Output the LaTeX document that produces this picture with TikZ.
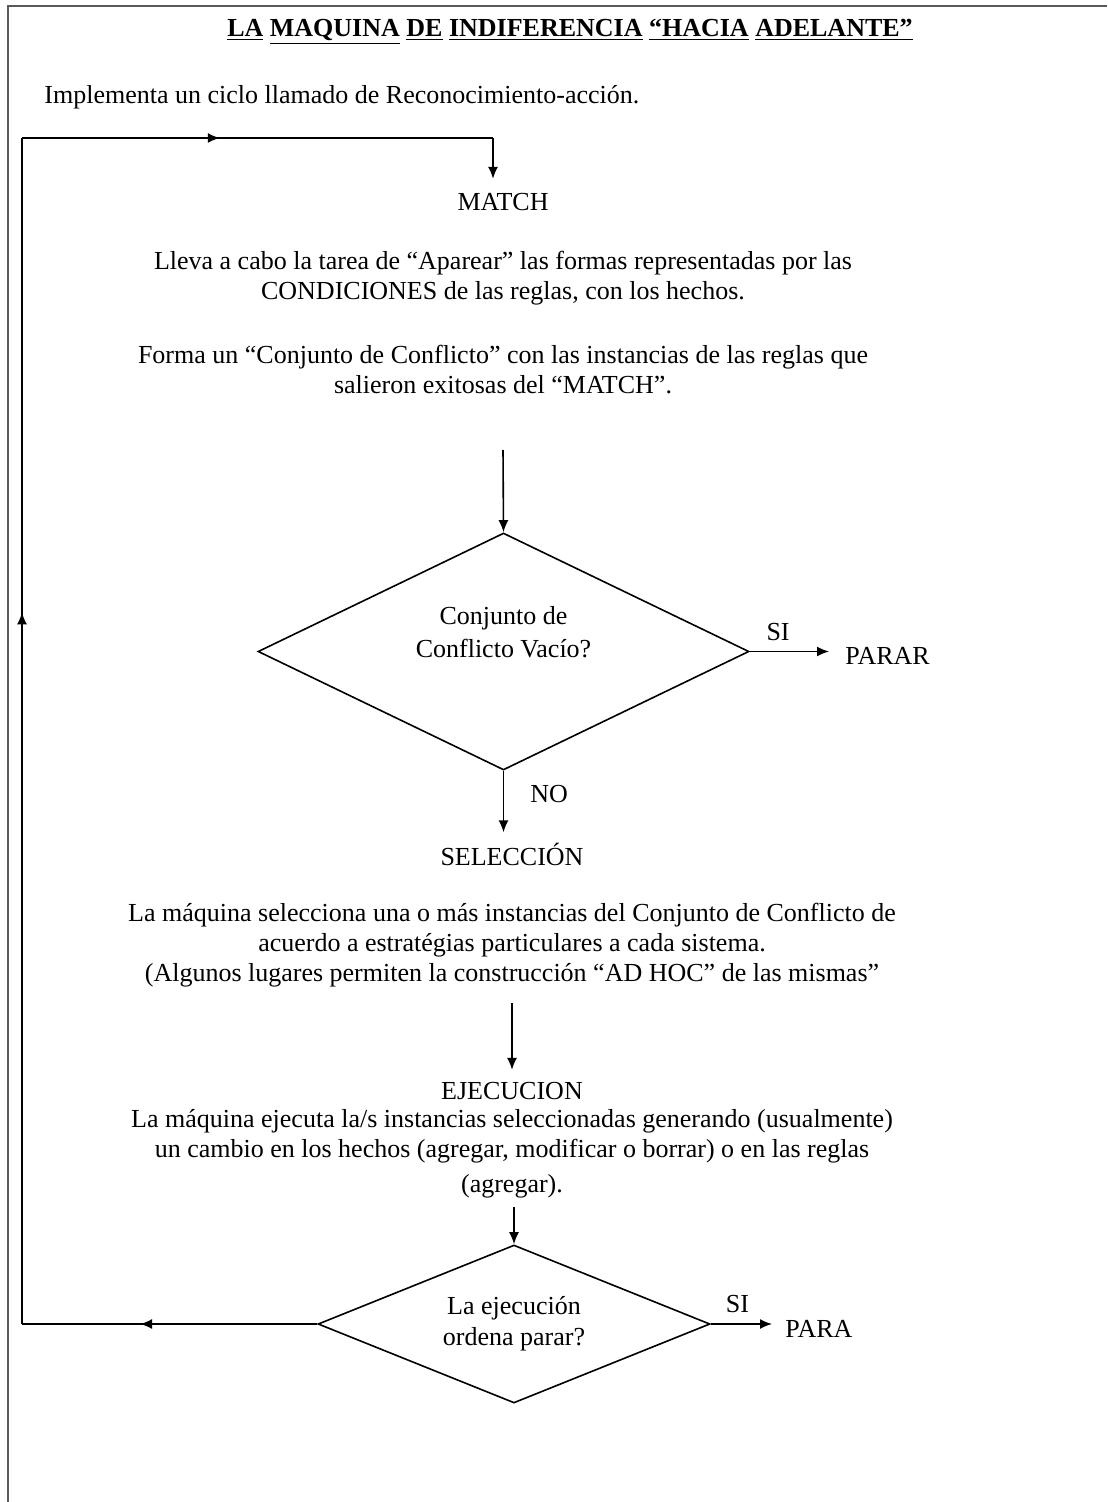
\documentclass[tikz,border=0pt]{standalone}
\usepackage{fontspec}
\setmainfont{Liberation Serif}
\usetikzlibrary{arrows.meta,shapes.geometric,decorations.markings}
\tikzset{
  txt/.style={align=center,inner sep=2pt,font=\fontsize{13}{15}\selectfont},
  head/.style={txt,font=\fontsize{13}{15}\selectfont\bfseries},
  decide/.style={draw=black,diamond,line width=.8pt,inner sep=0pt,
    align=center,font=\fontsize{13}{15}\selectfont},
  flow/.style={-{Latex[length=6pt,width=5pt]},line width=.8pt},
  loopline/.style={line width=.8pt},
  midarrow/.style={postaction={decorate},decoration={markings,
    mark=at position #1 with {\arrow{Latex[length=6pt,width=5pt]}}}},
  frameline/.style={draw=black!65,line width=1.2pt}
}
\begin{document}
\begin{tikzpicture}[x=.5pt,y=-.5pt]
\useasboundingbox (0,0) rectangle (1107,1502);
\draw[frameline] (8,1502) -- (8,6) -- (1107,6);

\node[head] (title) at (570,32)
  {\underline{LA} \underline{MAQUINA} \underline{DE} \underline{INDIFERENCIA}
   \underline{“HACIA} \underline{ADELANTE”}};
\node[txt,anchor=west] (intro) at (40,97)
  {Implementa un ciclo llamado de Reconocimiento-acción.};

\node[txt] (match) at (503,202) {MATCH};
\node[txt] (matchp) at (503,278)
  {Lleva a cabo la tarea de “Aparear” las formas representadas por las\\
   CONDICIONES de las reglas, con los hechos.};
\node[txt] (formap) at (503,370)
  {Forma un “Conjunto de Conflicto” con las instancias de las reglas que\\
   salieron exitosas del “MATCH”.};

\node[decide,aspect=2.07,minimum width=245.5pt,minimum height=118.5pt] (vacio) at (503.5,651.5)
  {Conjunto de\\[1.5pt]Conflicto Vacío?\\[5pt]~};
\node[txt,anchor=west] (parar) at (841,656) {PARAR};

\node[txt] (sel) at (512,854) {SELECCIÓN};
\node[txt] (selp) at (512,945)
  {La máquina selecciona una o más instancias del Conjunto de Conflicto de\\
   acuerdo a estratégias particulares a cada sistema.\\
   (Algunos lugares permiten la construcción “AD HOC” de las mismas”};

\node[txt] (ejec) at (512,1091) {EJECUCION};
\node[txt] (ejecp) at (512,1154)
  {La máquina ejecuta la/s instancias seleccionadas generando (usualmente)\\
   un cambio en los hechos (agregar, modificar o borrar) o en las reglas\\[2.5pt]
   (agregar).};

\node[decide,aspect=2.48,minimum width=196pt,minimum height=79pt] (ordena) at (514,1324)
  {La ejecución\\[.5pt]ordena parar?};
\node[txt,anchor=west] (para) at (781,1329) {PARA};

% loop corners
\coordinate (cbl) at (22,1324);
\coordinate (ctl) at (22,138);
\coordinate (ctr) at (493,138);
\coordinate (a1) at (503,450);

\draw[flow] (a1) -- (vacio.north);
\draw[flow,shorten >=6pt] (vacio.east) -- node[txt,above=3pt,pos=.31] {SI} (vacio.east -| parar.west);
\draw[flow,shorten >=3pt] (vacio.south) -- node[txt,right=11pt,pos=.35] {NO} (vacio.south |- sel.north);
\draw[flow,shorten <=6pt,shorten >=4pt] (ejec.north |- selp.south) -- (ejec.north);
\draw[flow,shorten <=2pt] (ordena.north |- ejecp.south) -- (ordena.north);
\draw[flow,shorten >=4.5pt] (ordena.east) -- node[txt,above=3pt,pos=.38] {SI} (ordena.east -| para.west);

\draw[loopline,midarrow=.6] (ordena.west) -- (cbl);
\draw[loopline,midarrow=.6] (cbl) -- (ctl);
\draw[loopline,midarrow=.42] (ctl) -- (ctr);
\draw[flow,shorten >=5pt] (ctr) -- (ctr |- match.north);
\end{tikzpicture}
\end{document}
